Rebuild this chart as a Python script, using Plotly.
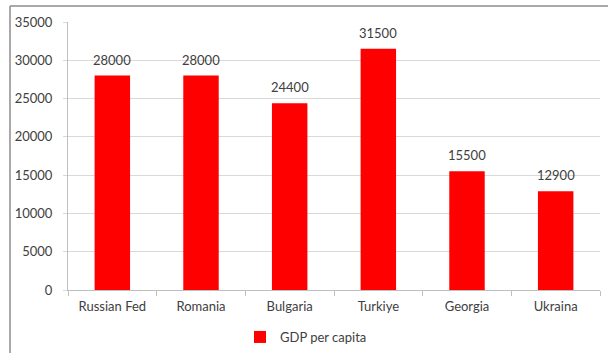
import plotly.graph_objects as go

categories = ["Russian Fed", "Romania", "Bulgaria", "Turkiye", "Georgia", "Ukraina"]
gdp_per_capita = [28000, 28000, 24400, 31500, 15500, 12900]
y_ticks = [0, 5000, 10000, 15000, 20000, 25000, 30000, 35000]
y_tick_labels = [str(v) for v in y_ticks]

W, H = 608, 353
L, R, T, B = 68, 8, 22, 63
pw, ph = W - L - R, H - T - B

def px_x(x):
    return (x - L) / pw

def px_y(y):
    # y is a pixel row measured from the top of the page
    return (H - B - y) / ph

font_fam = "Lato, 'Open Sans', sans-serif"
txt_col = "#404040"
fs = 13

fig = go.Figure()
fig.add_trace(go.Bar(
    x=categories, y=gdp_per_capita, name="GDP per capita",
    marker=dict(color="#ff0000", line=dict(width=0)),
    cliponaxis=False,
))

for c, v in zip(categories, gdp_per_capita):
    fig.add_annotation(x=c, y=v, text=str(v), showarrow=False,
                       yanchor="bottom", yshift=6,
                       font=dict(size=fs, color=txt_col, family=font_fam))

fig.update_layout(
    width=W, height=H,
    margin=dict(l=L, r=R, t=T, b=B, autoexpand=False),
    paper_bgcolor="white", plot_bgcolor="white",
    bargap=0.6,
    font=dict(family=font_fam, size=fs, color=txt_col),
    showlegend=True,
    legend=dict(orientation="h", xref="container", yref="container",
                x=240 / W, xanchor="left", y=1 - 337 / H, yanchor="middle",
                bgcolor="rgba(0,0,0,0)",
                font=dict(size=fs, color=txt_col, family=font_fam), itemwidth=30),
    xaxis=dict(showline=True, linecolor="#bfbfbf", linewidth=1,
               ticks="outside", tickson="boundaries", ticklen=5, tickcolor="#bfbfbf",
               tickfont=dict(size=fs, color=txt_col, family=font_fam),
               ticklabelstandoff=4, automargin=False),
    yaxis=dict(range=[0, 35000], tickvals=y_ticks, ticktext=y_tick_labels,
               showgrid=True, gridcolor="#d9d9d9",
               showline=True, linecolor="#bfbfbf", linewidth=1,
               ticks="outside", ticklen=4, tickcolor="#d9d9d9",
               tickfont=dict(size=fs, color=txt_col, family=font_fam),
               zeroline=False, ticklabelstandoff=8, automargin=False),
    shapes=[
        dict(type="line", xref="paper", yref="paper", x0=px_x(10), x1=px_x(W + 2),
             y0=px_y(6), y1=px_y(6), line=dict(color="#8c8c8c", width=1.5)),
        dict(type="line", xref="paper", yref="paper", x0=px_x(10), x1=px_x(10),
             y0=px_y(6), y1=px_y(H + 2), line=dict(color="#8c8c8c", width=1.5)),
    ],
)

fig.write_html("out.html")
